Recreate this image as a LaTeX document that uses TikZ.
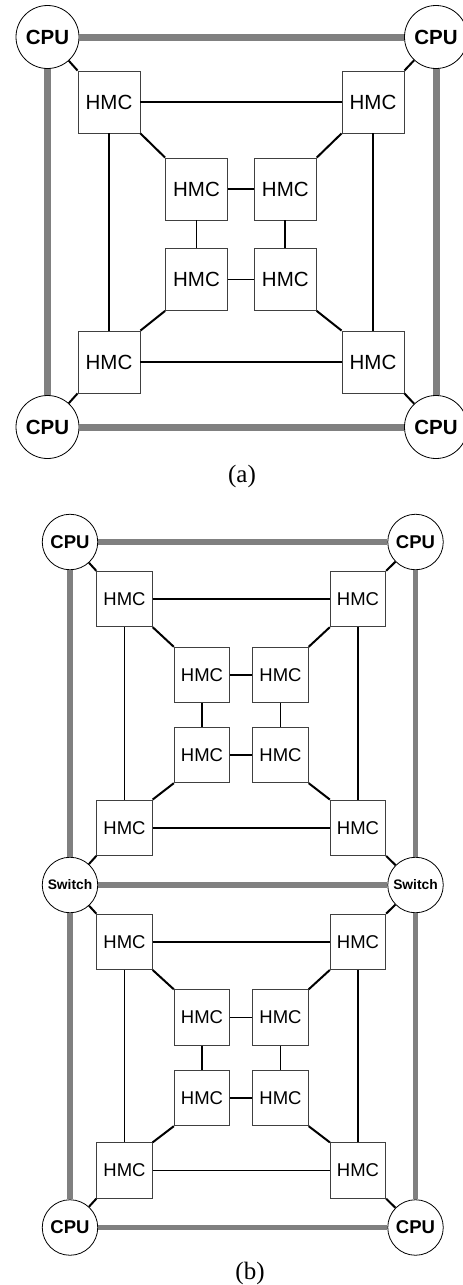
\documentclass[tikz,border=0pt]{standalone}
\usepackage{fontspec}
\setmainfont{Liberation Sans}
\newfontfamily\capfont{Liberation Serif}
\definecolor{busgray}{RGB}{128,128,128}
\newcommand{\meshblock}[9]{%
  \node[hmc] (#1tl) at (#2,#6) {HMC};
  \node[hmc] (#1tr) at (#3,#6) {HMC};
  \node[hmc] (#1bl) at (#2,#7) {HMC};
  \node[hmc] (#1br) at (#3,#7) {HMC};
  \node[hmc] (#1itl) at (#4,#8) {HMC};
  \node[hmc] (#1itr) at (#5,#8) {HMC};
  \node[hmc] (#1ibl) at (#4,#9) {HMC};
  \node[hmc] (#1ibr) at (#5,#9) {HMC};
  \draw[link] (#1tl) -- (#1tr);
  \draw[link] (#1bl) -- (#1br);
  \draw[link] (#1tl) -- (#1bl);
  \draw[link] (#1tr) -- (#1br);
  \draw[link] (#1itl) -- (#1itr);
  \draw[link] (#1ibl) -- (#1ibr);
  \draw[link] (#1itl) -- (#1ibl);
  \draw[link] (#1itr) -- (#1ibr);
  \draw[diag] (#1tl.south east) -- (#1itl.north west);
  \draw[diag] (#1tr.south west) -- (#1itr.north east);
  \draw[diag] (#1bl.north east) -- (#1ibl.south west);
  \draw[diag] (#1br.north west) -- (#1ibr.south east);
}
\begin{document}
\begin{tikzpicture}[x=1pt,y=-1pt,
  link/.style={line width=1.7pt,black},
  diag/.style={line width=2pt,black},
  caption/.style={font=\capfont\fontsize{25}{25}\selectfont,anchor=base,inner sep=0pt}]
\useasboundingbox (0,0) rectangle (463,1285);
% ---------- (a) ----------
\begin{scope}[
  hmc/.style={draw=black!75,line width=0.8pt,fill=white,minimum size=62pt,inner sep=0pt,
    font=\fontsize{20.5}{20.5}\selectfont},
  proc/.style={circle,draw=black,line width=0.8pt,fill=white,minimum size=63pt,inner sep=0pt,
    font=\bfseries\fontsize{20.5}{20.5}\selectfont},
  bus/.style={line width=7pt,busgray}]
\node[proc] (atlc) at (47.5,37) {CPU};
\node[proc] (atrc) at (436,37) {CPU};
\node[proc] (ablc) at (47.5,427) {CPU};
\node[proc] (abrc) at (436,427) {CPU};
\draw[bus] (atlc) -- (atrc);
\draw[bus] (ablc) -- (abrc);
\draw[bus] (atlc) -- (ablc);
\draw[bus] (atrc) -- (abrc);
\meshblock{a}{109}{373}{196.5}{285.3}{102}{362}{189}{279.5}
\draw[diag] (atlc) -- (atl.north west);
\draw[diag] (atrc) -- (atr.north east);
\draw[diag] (ablc) -- (abl.south west);
\draw[diag] (abrc) -- (abr.south east);
\end{scope}
\node[caption] (capa) at (242,482.5) {(a)};
% ---------- (b) ----------
\begin{scope}[
  hmc/.style={draw=black!75,line width=0.8pt,fill=white,minimum size=55.5pt,inner sep=0pt,
    font=\fontsize{18.5}{18.5}\selectfont},
  proc/.style={circle,draw=black,line width=0.8pt,fill=white,minimum size=55.5pt,inner sep=0pt,
    font=\bfseries\fontsize{18.5}{18.5}\selectfont},
  sw/.style={proc,font=\bfseries\fontsize{13.8}{13.8}\selectfont},
  bus/.style={line width=5.5pt,busgray}]
\node[proc] (btlc) at (70,542) {CPU};
\node[proc] (btrc) at (415.5,542) {CPU};
\node[sw] (bls) at (70,885) {Switch};
\node[sw] (brs) at (415.5,885) {Switch};
\node[proc] (bblc) at (70,1227.5) {CPU};
\node[proc] (bbrc) at (415.5,1227.5) {CPU};
\draw[bus] (btlc) -- (btrc);
\draw[bus] (bls) -- (brs);
\draw[bus] (bblc) -- (bbrc);
\draw[bus] (btlc) -- (bls);
\draw[bus] (bls) -- (bblc);
\draw[bus] (btrc) -- (brs);
\draw[bus] (brs) -- (bbrc);
\meshblock{u}{124.5}{358}{202}{280.5}{599}{827.7}{675}{755}
\meshblock{l}{124.5}{358}{202}{280.5}{941.8}{1170.5}{1017.5}{1098}
\draw[diag] (btlc) -- (utl.north west);
\draw[diag] (btrc) -- (utr.north east);
\draw[diag] (bls) -- (ubl.south west);
\draw[diag] (brs) -- (ubr.south east);
\draw[diag] (bls) -- (ltl.north west);
\draw[diag] (brs) -- (ltr.north east);
\draw[diag] (bblc) -- (lbl.south west);
\draw[diag] (bbrc) -- (lbr.south east);
\end{scope}
\node[caption] (capb) at (250,1279) {(b)};
\end{tikzpicture}
\end{document}
